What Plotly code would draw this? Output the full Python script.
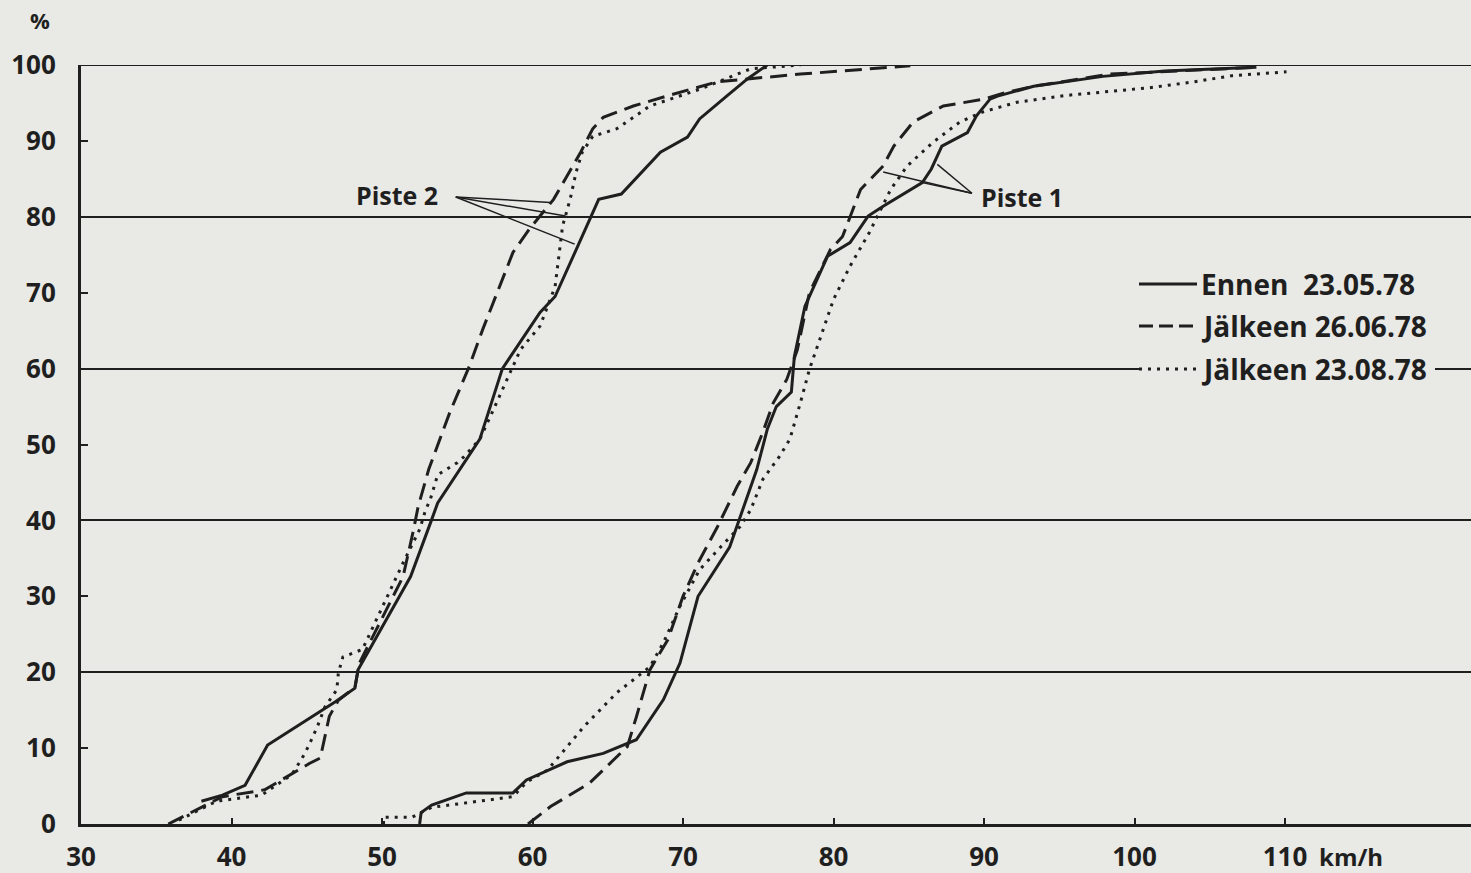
import plotly.graph_objects as go

# ---------------- data (speed km/h, cumulative %) ----------------
# Piste 2
p2_ennen_v = [38.0, 39.4, 40.9, 42.4, 46.9, 48.2, 48.4, 51.9, 53.3, 53.7, 56.5, 58.0, 60.5, 61.5,
              63.0, 64.4, 65.9, 68.5, 70.3, 71.1, 72.9, 74.3, 75.6]
p2_ennen_p = [3.0, 3.8, 5.1, 10.4, 16.1, 17.9, 20.3, 32.6, 40.1, 42.3, 50.7, 60.0, 67.4, 69.5,
              76.1, 82.3, 83.0, 88.5, 90.5, 92.9, 95.9, 98.2, 100.0]

p2_jalk1_v = [35.8, 39.4, 42.2, 45.2, 45.9, 46.5, 47.1, 48.2, 48.5, 51.4, 52.1, 52.4, 53.1, 54.5,
              55.8, 56.7, 58.7, 59.8, 61.4, 63.2, 64.0, 64.7, 66.7, 68.9, 72.3, 75.7, 77.8, 85.1]
p2_jalk1_p = [0.0, 3.6, 4.5, 8.0, 8.7, 14.2, 16.3, 18.0, 21.2, 32.6, 38.8, 41.8, 46.7, 54.2,
              60.3, 65.2, 75.3, 78.4, 82.3, 88.5, 91.6, 93.1, 94.6, 95.9, 97.8, 98.4, 98.8, 99.9]

p2_jalk2_v = [36.5, 39.0, 42.0, 44.0, 44.7, 45.1, 45.7, 46.2, 47.0, 47.1, 47.4, 48.7, 51.4, 52.5,
              52.9, 53.2, 53.7, 54.3, 55.0, 55.4, 56.5, 57.2, 59.2, 60.5, 61.5, 62.0, 62.5, 62.9,
              63.3, 64.0, 65.6, 67.8, 71.1, 74.5, 77.8]
p2_jalk2_p = [0.5, 3.0, 3.8, 6.5, 8.7, 10.2, 12.8, 15.4, 17.7, 19.9, 22.0, 23.0, 34.4, 38.8,
              41.4, 42.7, 46.0, 46.7, 47.6, 48.3, 50.7, 53.7, 62.5, 65.6, 70.8, 78.8, 82.3, 85.9,
              88.5, 90.6, 91.6, 94.6, 96.8, 99.5, 100.0]

# Piste 1
p1_ennen_v = [52.5, 52.6, 53.3, 55.6, 58.7, 59.6, 62.3, 64.7, 66.9, 68.7, 69.8, 71.0, 73.1, 73.8,
              74.9, 75.6, 76.2, 77.2, 77.4, 78.1, 78.6, 79.6, 81.1, 82.3, 83.3, 85.9, 86.5, 87.2,
              88.9, 89.5, 90.4, 90.9, 93.3, 97.9, 102.0, 108.1]
p1_ennen_p = [0.0, 1.5, 2.5, 4.1, 4.1, 5.8, 8.2, 9.3, 11.1, 16.4, 21.2, 30.0, 36.5, 40.5,
              46.7, 52.0, 55.0, 56.9, 61.6, 68.2, 70.4, 74.8, 76.6, 80.1, 81.4, 84.5, 86.3, 89.3,
              91.1, 93.3, 95.5, 95.9, 97.2, 98.5, 99.2, 99.7]

p1_jalk1_v = [59.7, 61.2, 63.8, 66.3, 66.9, 67.8, 68.3, 69.0, 70.0, 71.0, 72.3, 73.6, 74.5, 75.3,
              76.0, 76.9, 77.6, 78.4, 79.8, 80.6, 81.8, 83.3, 84.0, 85.3, 87.3, 90.0, 91.5, 93.3,
              98.4, 108.1]
p1_jalk1_p = [0.0, 2.3, 5.4, 10.2, 14.1, 20.3, 22.0, 24.3, 30.0, 34.4, 39.2, 44.5, 47.6, 51.6,
              55.5, 58.6, 62.5, 70.0, 75.7, 77.4, 83.6, 86.7, 89.3, 92.5, 94.6, 95.5, 96.4, 97.2,
              98.8, 99.7]

p1_jalk2_v = [50.1, 50.1, 52.0, 53.3, 57.6, 58.7, 59.6, 61.0, 63.4, 65.6, 67.8, 68.7, 69.8, 71.1,
              72.5, 73.8, 74.5, 75.3, 76.4, 77.1, 77.8, 78.4, 79.1, 80.0, 81.1, 82.4, 83.8, 84.9,
              86.6, 88.4, 89.9, 92.2, 95.5, 101.0, 104.0, 106.5, 110.1]
p1_jalk2_p = [0.0, 0.9, 0.9, 2.2, 3.3, 3.6, 5.5, 7.1, 12.8, 17.3, 20.7, 23.9, 28.7, 33.5,
              36.5, 39.2, 41.4, 45.4, 48.4, 50.7, 55.5, 59.9, 63.9, 69.1, 73.5, 78.0, 83.6, 86.7,
              89.8, 92.5, 93.8, 95.1, 96.0, 97.0, 97.8, 98.6, 99.1]

x_ticks = [30, 40, 50, 60, 70, 80, 90, 100, 110]
y_ticks = [0, 10, 20, 30, 40, 50, 60, 70, 80, 90, 100]
y_grid = [20, 40, 60, 80]
y_top = 100
legend_labels = ["Ennen  23.05.78", "Jälkeen 26.06.78", "Jälkeen 23.08.78"]

# ---------------- styling ----------------
INK = "#1f1f1f"
BG = "#e9e9e5"
FONT = "Open Sans"
DASH = "17px,8px"
DOT = "3px,6px"

W, H = 1471, 873
L, R, T, B = 81, 0, 65, 49
X0, X1 = 30, 30 + (W - L - R) / 15.05


def px2paper(px, py):
    return (px - L) / (W - L - R), (H - B - py) / (H - T - B)


fig = go.Figure()

series = [
    (p2_ennen_v, p2_ennen_p, "solid"),
    (p2_jalk1_v, p2_jalk1_p, DASH),
    (p2_jalk2_v, p2_jalk2_p, DOT),
    (p1_ennen_v, p1_ennen_p, "solid"),
    (p1_jalk1_v, p1_jalk1_p, DASH),
    (p1_jalk2_v, p1_jalk2_p, DOT),
]
for xs, ys, dash in series:
    fig.add_trace(go.Scatter(x=xs, y=ys, mode="lines",
                             line=dict(color=INK, width=3, dash=dash),
                             showlegend=False, hoverinfo="skip"))

shapes = []
annotations = []

# top (100 %) frame line
shapes.append(dict(type="line", xref="paper", yref="y", x0=0, x1=1, y0=y_top, y1=y_top,
                   line=dict(color=INK, width=2), layer="below"))

# pointer lines for "Piste 2"
for ex, ey in [(61.2, 81.9), (62.2, 80.1), (62.8, 76.4)]:
    shapes.append(dict(type="line", xref="x", yref="y", x0=54.9, y0=82.6, x1=ex, y1=ey,
                       line=dict(color=INK, width=1.5)))
# pointer lines for "Piste 1"
for ex, ey in [(83.3, 85.9), (85.9, 84.5), (86.9, 86.9)]:
    shapes.append(dict(type="line", xref="x", yref="y", x0=89.2, y0=83.1, x1=ex, y1=ey,
                       line=dict(color=INK, width=1.5)))

annotations.append(dict(x=51.0, y=82.9, xref="x", yref="y", text="Piste 2", showarrow=False,
                        font=dict(family=FONT, size=25, color=INK, weight=700)))
annotations.append(dict(x=92.5, y=82.6, xref="x", yref="y", text="Piste 1", showarrow=False,
                        font=dict(family=FONT, size=25, color=INK, weight=700)))

# legend (drawn manually)
cx0, cy0 = px2paper(1140, 378)
cx1, cy1 = px2paper(1435, 360)
shapes.append(dict(type="rect", xref="paper", yref="paper", x0=cx0, y0=cy0, x1=cx1, y1=cy1,
                   fillcolor=BG, line=dict(width=0), layer="above"))
leg_rows = [(284, "solid"), (326, "14px,6px"), (369, DOT)]
for (py, dash), label in zip(leg_rows, legend_labels):
    ax0, ay = px2paper(1139, py)
    ax1, _ = px2paper(1197, py)
    shapes.append(dict(type="line", xref="paper", yref="paper", x0=ax0, y0=ay, x1=ax1, y1=ay,
                       line=dict(color=INK, width=3, dash=dash), layer="above"))
    tx, ty = px2paper(1199, py)
    annotations.append(dict(x=tx, y=ty, xref="paper", yref="paper", text=label, showarrow=False,
                            xanchor="left", yanchor="middle",
                            font=dict(family=FONT, size=28, color=INK, weight=700)))

# axis unit labels
annotations.append(dict(x=0, y=1, xref="paper", yref="paper", text="%", showarrow=False,
                        xanchor="center", yanchor="middle",
                        xshift=-41, yshift=45, font=dict(family=FONT, size=22, color=INK, weight=700)))
annotations.append(dict(x=112.1, y=0, xref="x", yref="paper", text="km/h", showarrow=False,
                        xanchor="left", yanchor="middle", yshift=-32,
                        font=dict(family=FONT, size=24, color=INK, weight=700)))

fig.update_layout(
    width=W, height=H, autosize=False,
    margin=dict(l=L, r=R, t=T, b=B, pad=0),
    paper_bgcolor=BG, plot_bgcolor=BG,
    shapes=shapes, annotations=annotations,
    showlegend=False,
    xaxis=dict(range=[X0, X1], showgrid=False, zeroline=False,
               showline=True, linecolor=INK, linewidth=3,
               tickmode="array", tickvals=x_ticks, ticktext=[str(v) for v in x_ticks],
               ticks="inside", ticklen=6, tickwidth=2, tickcolor=INK,
               ticklabelstandoff=8,
               tickfont=dict(family=FONT, size=26, color=INK, weight=700)),
    yaxis=dict(range=[0, 100], showgrid=False, zeroline=False,
               showline=True, linecolor=INK, linewidth=3,
               tickmode="array", tickvals=y_ticks, ticktext=[str(v) for v in y_ticks],
               ticks="inside", ticklen=7, tickwidth=2, tickcolor=INK,
               ticklabelstandoff=17,
               tickfont=dict(family=FONT, size=26, color=INK, weight=700),
               minor=dict(tickmode="array", tickvals=y_grid, showgrid=True,
                          gridcolor=INK, gridwidth=1.6, ticks="")),
)

fig.write_html("out.html")
